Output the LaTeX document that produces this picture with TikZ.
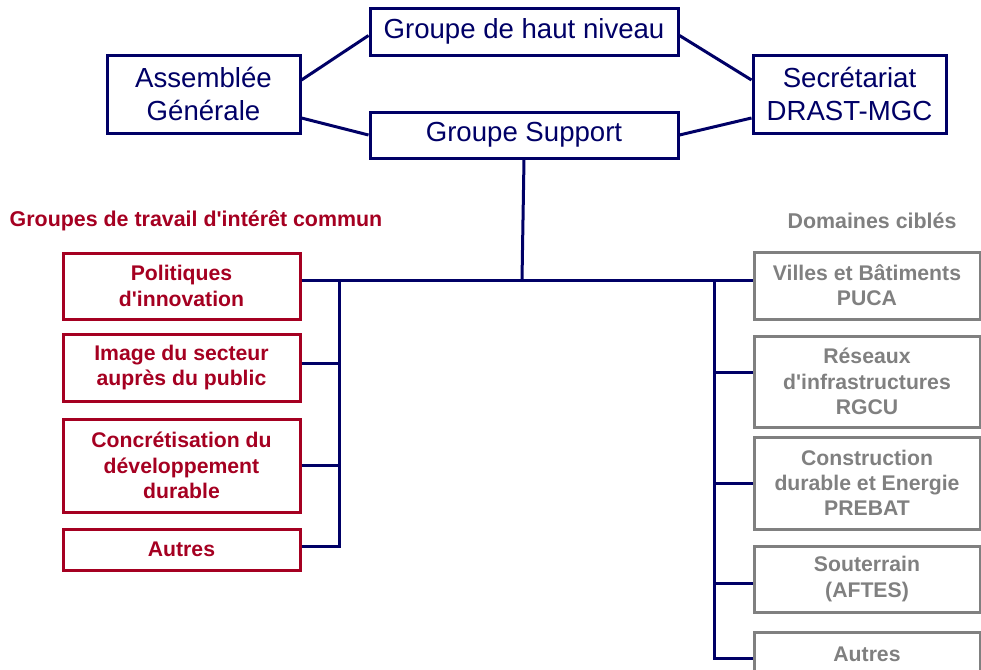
\documentclass[tikz,border=0pt]{standalone}
\usepackage{fontspec}
\setmainfont{Liberation Sans}
\definecolor{navy}{RGB}{0,0,102}
\definecolor{wine}{RGB}{165,0,33}
\definecolor{grayc}{RGB}{128,128,128}
\newcommand{\q}{\textquotesingle}
\begin{document}
\begin{tikzpicture}[x=0.5pt,y=-0.5pt,
  topbox/.style={draw=navy,line width=1.5pt,text=navy,inner sep=0pt,align=center,
    font=\fontsize{13.8}{16.5}\selectfont},
  redbox/.style={draw=wine,line width=1.5pt,text=wine,inner sep=0pt,align=center,
    minimum width=118.5pt,font=\fontsize{10.6}{12.6}\selectfont\bfseries},
  graybox/.style={draw=grayc,line width=1.5pt,text=grayc,inner sep=0pt,align=center,
    minimum width=113pt,font=\fontsize{10.6}{12.6}\selectfont\bfseries},
  link/.style={draw=navy,line width=1.5pt}]
\useasboundingbox (0,0) rectangle (981,670);
\clip (0,0) rectangle (981,670);
% top
\node[topbox,minimum width=154pt,minimum height=23.5pt] (ghn) at (524,31.5) {Groupe de haut niveau};
\node[topbox,minimum width=154pt,minimum height=23pt] (gs) at (524,135) {Groupe Support};
\node[topbox,minimum width=96.5pt,minimum height=39pt] (ag) at (203.5,94) {Assemblée\\Générale};
\node[topbox,minimum width=96.5pt,minimum height=39pt] (sec) at (849.5,94) {Secrétariat\\DRAST-MGC};
\draw[link] ([yshift=7pt]ag.east) -- ([yshift=-2pt]ghn.west);
\draw[link] ([yshift=-12pt]ag.east) -- (gs.west);
\draw[link] ([yshift=-2pt]ghn.east) -- ([yshift=7pt]sec.west);
\draw[link] (gs.east) -- ([yshift=-12pt]sec.west);
% titles
\node[text=wine,font=\fontsize{10.7}{12}\selectfont\bfseries] (tl) at (196,221) {Groupes de travail d\q intérêt commun};
\node[text=grayc,font=\fontsize{10.7}{12}\selectfont\bfseries] (tr) at (872,221) {Domaines ciblés};
% left boxes
\node[redbox,minimum height=33pt] (p1) at (181.5,286) {Politiques\\d\q innovation};
\node[redbox,minimum height=33.5pt] (p2) at (181.5,367.5) {Image du secteur\\auprès du public};
\node[redbox,minimum height=46.5pt] (p3) at (181.5,465.5) {Concrétisation du\\développement\\durable};
\node[redbox,minimum height=20.5pt] (p4) at (181.5,549.5) {Autres};
% right boxes
\node[graybox,minimum height=33.5pt] (d1) at (867,285.5) {Villes et Bâtiments\\PUCA};
\node[graybox,minimum height=45.5pt] (d2) at (867,381.5) {Réseaux\\d\q infrastructures\\RGCU};
\node[graybox,minimum height=46pt] (d3) at (867,483) {Construction\\durable et Energie\\PREBAT};
\node[graybox,minimum height=33pt] (d4) at (867,579) {Souterrain\\(AFTES)};
\node[graybox,minimum height=22pt] (d5) at (867,654) {Autres};
% buses
\coordinate (hub) at (522,280);
\coordinate (lb) at (339,280);
\coordinate (rb) at (714,280);
\draw[link] (gs.south) -- (hub);
\draw[link] ([yshift=3pt]p1.east) -- ([yshift=2.75pt]d1.west);
\draw[link] ([yshift=2.25pt]p2.east) -| (lb);
\draw[link] (p3.east) -| (lb);
\draw[link] ([yshift=1.75pt]p4.east) -| (lb);
\draw[link] ([yshift=4.75pt]d2.west) -| (rb);
\draw[link] (d3.west) -| (rb);
\draw[link] ([yshift=-2pt]d4.west) -| (rb);
\draw[link] ([yshift=-2pt]d5.west) -| (rb);
\end{tikzpicture}
\end{document}
